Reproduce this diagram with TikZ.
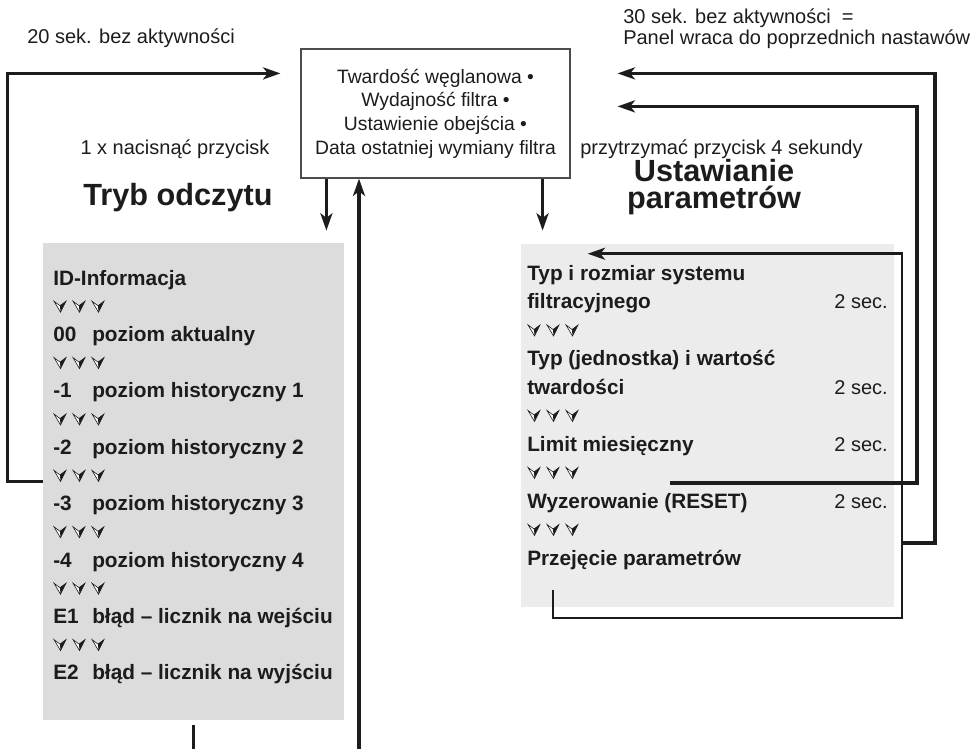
\documentclass[tikz,border=0pt]{standalone}
\usepackage{fontspec}
\setmainfont{Liberation Sans}
\usepackage{tikz}
\usetikzlibrary{arrows.meta,calc}
\usepackage{xcolor}
\definecolor{leftgray}{RGB}{220,220,220}
\definecolor{rightgray}{RGB}{235,236,235}
\definecolor{ink}{RGB}{28,28,28}

% three small down marks between the list rows
\newcommand{\chevrow}[2]{%
  \foreach \dx in {0,19,38}{
    \begin{scope}[shift={(#1+\dx,#2)}]
      \fill[white] (-6,-5) -- (0,-0.5) -- (6,-5) -- (0.5,6) -- cycle;
      \fill[ink] (0,-0.5) -- (6,-5) -- (0.5,6) -- cycle;
      \draw[ink,line width=0.45pt] (-6,-5) -- (0,-0.5) -- (6,-5) -- (0.5,6) -- cycle;
    \end{scope}}}

\begin{document}
\begin{tikzpicture}[x=0.75pt,y=-0.75pt,>={Stealth[length=13pt,width=9pt,inset=3.5pt]},
  txt/.style={font=\fontsize{15}{18}\selectfont,text=ink,inner sep=0pt},
  itm/.style={font=\bfseries\fontsize{15.6}{18}\selectfont,text=ink,inner sep=0pt,anchor=base west},
  ttl/.style={font=\bfseries\fontsize{23}{26}\selectfont,text=ink,inner sep=0pt,anchor=base},
  panel/.style={draw=black!70,line width=0.9pt,minimum width=201.75pt,minimum height=96.75pt,
    align=center,inner sep=0pt,text=ink,font=\fontsize{14.5}{17.8}\selectfont},
  lgraybox/.style={fill=leftgray,minimum width=225.75pt,minimum height=357.75pt,inner sep=0pt},
  rgraybox/.style={fill=rightgray,minimum width=279.75pt,minimum height=272.25pt,inner sep=0pt},
  wire/.style={draw=ink,line width=2.6pt},
  thinwire/.style={draw=ink,line width=2pt}]
\useasboundingbox (0,0) rectangle (972,749);

% start display
\node[panel] (panel) at (435.5,113.5) {Twardość węglanowa •\\Wydajność filtra •\\Ustawienie obejścia •\\Data ostatniej wymiany filtra};

% headings and hints
\node[txt,anchor=base west] (t20) at (27,44) {20 sek. bez aktywności};
\node[txt,anchor=base west] (t30) at (623,24) {30 sek. bez aktywności\ \ =};
\node[txt,anchor=base west] (t30b) at (623,45) {Panel wraca do poprzednich nastawów};
\node[txt,anchor=base] (t1x) at (175,155) {1 x nacisnąć przycisk};
\node[txt,anchor=base west] (t4s) at (580,155) {przytrzymać przycisk 4 sekundy};
\node[ttl] (tryb) at (178,205) {Tryb odczytu};
\node[ttl] (ust1) at (714,181) {Ustawianie};
\node[ttl] (ust2) at (714,209) {parametrów};

% read mode list
\node[lgraybox] (lbox) at (193.5,481.5) {};
\node[itm] (idinfo) at (53,285) {ID-Informacja};
\foreach \k/\pre/\txt [count=\i] in {2/00/poziom aktualny,4/-1/poziom historyczny 1,
    6/-2/poziom historyczny 2,8/-3/poziom historyczny 3,10/-4/poziom historyczny 4,
    12/E1/błąd – licznik na wejściu,14/E2/błąd – licznik na wyjściu}{
  \node[itm] (pre\i) at (53,{285+28.2*\k}) {\pre};
  \node[itm] (itm\i) at (92,{285+28.2*\k}) {\txt};
}
\foreach \k in {1,3,...,13}{\chevrow{60}{278+28.2*\k}}

% settings list
\node[rgraybox] (rbox) at (707.5,425.5) {};
\foreach \k/\txt in {0/Typ i rozmiar systemu,1/filtracyjnego,3/{Typ (jednostka) i wartość},
    4/twardości,6/Limit miesięczny,8/{Wyzerowanie (RESET)},10/Przejęcie parametrów}{
  \node[itm] (set\k) at (527,{280+28.5*\k}) {\txt};
}
\foreach \k in {1,4,6,8}{
  \node[txt,anchor=base east] (sec\k) at (888,{280+28.5*\k}) {2 sec.};
}
\foreach \k in {2,5,7,9}{\chevrow{534}{273+28.5*\k}}

% connectors
\coordinate (upfoot) at (359,749);
\coordinate (fromlim) at (670,483);
\coordinate (fromres) at (902,543);
\coordinate (fromprz) at (553,590);
\draw[wire,->] (lbox.west) -- ++(-35,0) |- ([shift={(-20,25)}]panel.north west);
\draw[wire,->] ([shift={(26,0)}]panel.south west) -- ++(0,52);
\draw[wire,->] (upfoot) -- (upfoot |- panel.south);
\draw[wire] ([shift={(0,5)}]lbox.south) -- ++(0,24);
\draw[wire,->] ([shift={(-28,0)}]panel.south east) -- ++(0,52);
\draw[wire,->] (fromres) -- ++(33,0) |- ([shift={(47,25)}]panel.north east);
\draw[wire,->] (fromlim) -- ++(247,0) |- ([shift={(47,58)}]panel.north east);
\draw[thinwire,->] (fromprz) -- ++(0,28) -- ++(349,0) |- ([shift={(67,10)}]rbox.north west);
\end{tikzpicture}
\end{document}
